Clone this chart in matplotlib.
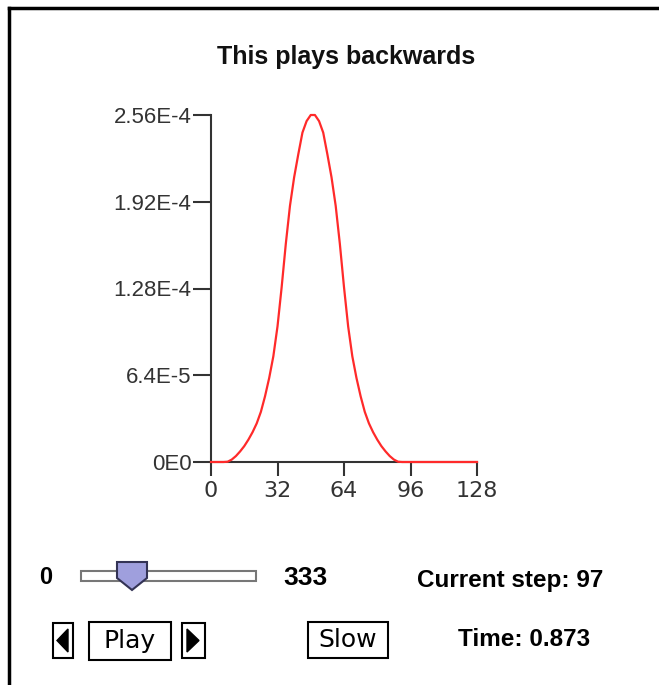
import numpy as np
import matplotlib
matplotlib.use('Agg')
import matplotlib.pyplot as plt
from matplotlib.patches import Rectangle, Polygon
from matplotlib.lines import Line2D

plt.rcParams['font.family'] = ['Liberation Sans Narrow', 'Liberation Sans', 'DejaVu Sans']

# data (x every 2 steps, y in units of 1e-5)
x_pos = list(range(0, 130, 2))
y_vals = [0, 0, 0, 0, 0.02, 0.18, 0.44, 0.78, 1.17, 1.65, 2.2, 2.85, 3.7,
          4.85, 6.2, 7.8, 10.0, 12.9, 16.1, 18.9, 21.0, 22.7, 24.3, 25.15, 25.6,
          25.6, 25.15, 24.3, 22.7, 21.0, 18.9, 16.1, 12.9, 10.0, 7.8, 6.2, 4.85,
          3.7, 2.85, 2.2, 1.65, 1.17, 0.78, 0.44, 0.18, 0.02,
          0, 0, 0, 0, 0, 0, 0, 0, 0, 0, 0, 0, 0, 0, 0, 0, 0, 0, 0]
x_ticks = [0, 32, 64, 96, 128]
y_ticks = [0, 6.4e-5, 1.28e-4, 1.92e-4, 2.56e-4]
y_labels = ['0E0', '6.4E-5', '1.28E-4', '1.92E-4', '2.56E-4']

W, H = 659, 685
fig = plt.figure(figsize=(W / 100, H / 100), dpi=100)

def fx(px):
    return px / W

def fy(py):
    return 1 - py / H

# plot area: x 211..477 px, y 115..462 px
ax = fig.add_axes([fx(211), fy(462), fx(477) - fx(211), (462 - 115) / H])
ax.plot(x_pos, np.array(y_vals) * 1e-5, color='#ff2a2a', lw=1.6, clip_on=False, zorder=3)
ax.set_xlim(0, 128)
ax.set_ylim(0, 2.56e-4)
ax.set_xticks(x_ticks)
ax.set_xticklabels([str(t) for t in x_ticks], family=['DejaVu Sans'])
ax.set_yticks(y_ticks)
ax.set_yticklabels(y_labels)
for s in ['top', 'right']:
    ax.spines[s].set_visible(False)
for s in ['left', 'bottom']:
    ax.spines[s].set_color('#333333')
    ax.spines[s].set_linewidth(1.5)
ax.tick_params(axis='x', length=10, width=1.5, color='#333333', labelsize=16, pad=4, labelcolor='#333333')
ax.tick_params(axis='y', length=13, width=1.5, color='#333333', labelsize=16, pad=1, labelcolor='#333333')

fig.text(fx(346), fy(57), 'This plays backwards', ha='center', va='center',
         fontsize=18, fontweight='bold', color='#111111')

# outer frame
fig.add_artist(Line2D([fx(9), fx(9)], [fy(8), 0], color='black', lw=2.5))
fig.add_artist(Line2D([fx(9), 1], [fy(8), fy(8)], color='black', lw=2.5))

# slider row
fig.text(fx(46), fy(578), '0', ha='center', va='center', fontsize=17, fontweight='bold')
fig.add_artist(Rectangle((fx(81), fy(581)), fx(256) - fx(81), (581 - 571) / H,
                         facecolor='white', edgecolor='#777777', lw=1.5))
thumb = [(117, 562), (147, 562), (147, 578), (132, 590), (117, 578)]
fig.add_artist(Polygon([(fx(a), fy(b)) for a, b in thumb], closed=True,
                       facecolor='#9f9fdd', edgecolor='#333355', lw=1.5))
fig.text(fx(305), fy(578), '333', ha='center', va='center', fontsize=19, fontweight='bold')
fig.text(fx(510), fy(580), 'Current step: 97', ha='center', va='center', fontsize=17.5, fontweight='bold')

# buttons row
def button(x0, x1, y0, y1):
    fig.add_artist(Rectangle((fx(x0), fy(y1)), fx(x1) - fx(x0), (y1 - y0) / H,
                             facecolor='white', edgecolor='black', lw=1.5))

button(53, 73, 623, 658)
fig.add_artist(Polygon([(fx(a), fy(b)) for a, b in [(68, 629), (68, 652), (57, 640.5)]],
                       closed=True, facecolor='black', edgecolor='black'))
button(89, 171, 622, 660)
fig.text(fx(130), fy(641), 'Play', ha='center', va='center', fontsize=18,
         family=['DejaVu Sans'], fontweight='medium')
button(182, 205, 623, 658)
fig.add_artist(Polygon([(fx(a), fy(b)) for a, b in [(187, 629), (187, 652), (199, 640.5)]],
                       closed=True, facecolor='black', edgecolor='black'))
button(308, 388, 622, 658)
fig.text(fx(348), fy(640), 'Slow', ha='center', va='center', fontsize=18,
         family=['DejaVu Sans'], fontweight='medium')
fig.text(fx(524), fy(640), 'Time: 0.873', ha='center', va='center', fontsize=17.5, fontweight='bold')

fig.savefig('out.png', dpi=100)
